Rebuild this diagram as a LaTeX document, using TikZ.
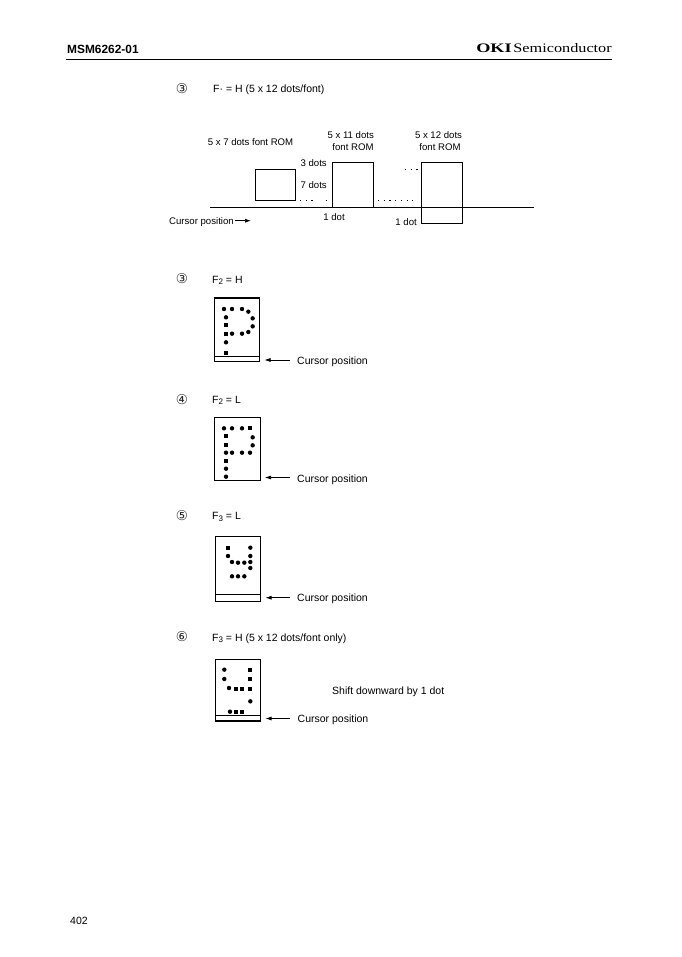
\documentclass[tikz,border=0pt]{standalone}
\usepackage{fontspec}
\usetikzlibrary{arrows.meta}
\setmainfont{Liberation Sans}
\newfontfamily\serifname{Liberation Serif}
\newfontfamily\symfont{DejaVu Sans}
\newcommand{\subdigit}[1]{\raisebox{-1.5pt}{\fontsize{8}{8}\selectfont #1}}
\begin{document}
\begin{tikzpicture}[x=1pt,y=-1pt,
  lab/.style={inner sep=0pt,yshift=-1.3pt,font=\fontsize{10.5}{12}\selectfont,text=black},
  leftlab/.style={lab,anchor=west},
  rightlab/.style={lab,anchor=east},
  small/.style={font=\fontsize{9.6}{11}\selectfont},
  circ/.style={inner sep=0pt,font=\symfont\fontsize{13.5}{14}\selectfont,text=black!85},
  frame/.style={draw=black,line width=0.8pt},
  thickline/.style={line width=1.7pt},
  curarrow/.style={draw=black,line width=0.7pt,-{Latex[length=6pt,width=4pt]}},
  specks/.style={line width=0.9pt,dash pattern=on 1.2pt off 4.5pt},
  round dot/.style={circle,fill=black,inner sep=0pt,minimum size=4.4pt},
  sq dot/.style={rectangle,fill=black,inner sep=0pt,minimum size=3.9pt}]
\useasboundingbox (0,0) rectangle (681,957);
\fill[white] (0,0) rectangle (681,957);
% header
\node[anchor=west,inner sep=0pt,yshift=-1pt,font=\fontsize{11.9}{13}\selectfont\bfseries] (title) at (67,48) {MSM6262-01};
\node[anchor=east,inner sep=0pt,yshift=-0.5pt,xscale=1.25,font=\serifname\fontsize{13}{14}\selectfont] (semi) at (612,48) {Semiconductor};
\node[anchor=east,inner sep=0pt,yshift=-0.5pt,xscale=1.4,font=\serifname\fontsize{13}{14}\selectfont\bfseries] (oki) at (512,48) {OKI};
\coordinate (ruleL) at (66,59);
\coordinate (ruleR) at (612,59);
\draw[line width=0.8pt] (ruleL) -- (ruleR);
\node[leftlab] (page) at (70,920) {402};
% headings
\node[circ] (c0) at (182,88.5) {③};
\node[leftlab] (h0) at (213,88) {F· = H (5 x 12 dots/font)};
\node[circ] (c3) at (182,279) {③};
\node[leftlab] (h3) at (212,279) {F\subdigit{2} = H};
\node[circ] (c4) at (182,399.5) {④};
\node[leftlab] (h4) at (212,399) {F\subdigit{2} = L};
\node[circ] (c5) at (182,515.5) {⑤};
\node[leftlab] (h5) at (212,515.5) {F\subdigit{3} = L};
\node[circ] (c6) at (182,637) {⑥};
\node[leftlab] (h6) at (212,637) {F\subdigit{3} = H (5 x 12 dots/font only)};
% font diagram
\coordinate (baseL) at (210,207.5);
\coordinate (baseM) at (332.5,207.5);
\coordinate (baseR) at (534,207.5);
\draw[line width=0.8pt] (baseL) -- (baseM);
\draw[thickline] (baseM) -- (baseR);
\draw[frame] (255.7,169.3) rectangle (295.7,200.3);
\draw[frame] (332.5,207.5) -- (332.5,162) -- (373.3,162) -- (373.3,207.5);
\draw[frame] (421.7,162) rectangle (462.3,223.3);
\node[lab,small] (rom7) at (250.5,141) {5 x 7 dots font ROM};
\node[lab,small] (rom11a) at (350.7,134) {5 x 11 dots};
\node[lab,small] (rom11b) at (353,146) {font ROM};
\node[lab,small] (rom12a) at (438.5,134) {5 x 12 dots};
\node[lab,small] (rom12b) at (440,146) {font ROM};
\node[rightlab,small] (d3) at (327,162) {3 dots};
\node[rightlab,small] (d7) at (327,184) {7 dots};
\node[lab,small] (d1a) at (334,215.5) {1 dot};
\node[rightlab,small] (d1b) at (417,220.5) {1 dot};
\node[leftlab,small] (cur0) at (169,220.5) {Cursor position};
\coordinate (tip0) at (251,220.7);
\draw[curarrow] (235,220.7) -- (tip0);
% dotted fragments
\draw[specks] (300,200) -- (314,200);
\draw[specks] (325.5,200) -- (327.5,200);
\draw[specks] (378,200) -- (416,200);
\draw[specks] (405,169) -- (418,169);
\draw[line width=0.7pt,dash pattern=on 1.5pt off 1.5pt] (421,180) -- (421,206);
% display boxes
\draw[frame] (214.5,297.7) rectangle (259.7,361.7);
\draw[thickline] (214.5,297.7) -- (259.7,297.7);
\draw[line width=0.7pt] (214.5,356) -- (259.7,356);
\draw[frame] (214.7,417.7) rectangle (259.9,480.7);
\draw[frame] (215.3,536.7) rectangle (260,601);
\draw[line width=0.7pt] (215.3,594.3) -- (260,594.3);
\draw[frame] (215.3,659.3) rectangle (260.5,721);
\draw[line width=0.7pt] (215.3,715.3) -- (260.5,715.3);
\draw[thickline] (215.3,720.7) -- (260.5,720.7);
% cursor labels
\node[leftlab] (cur3) at (297,360) {Cursor position};
\node[leftlab] (cur4) at (297,478) {Cursor position};
\node[leftlab] (cur5) at (297,597.7) {Cursor position};
\node[leftlab] (cur6) at (297.5,718.5) {Cursor position};
\coordinate (t3) at (264.5,360);
\coordinate (t4) at (265,477.5);
\coordinate (t5) at (265.5,597.7);
\coordinate (t6) at (265.5,718.5);
\draw[curarrow] (290,360) -- (t3);
\draw[curarrow] (290,477.5) -- (t4);
\draw[curarrow] (290,597.7) -- (t5);
\draw[curarrow] (290,718.5) -- (t6);
\node[leftlab] (shift) at (332,690) {Shift downward by 1 dot};
% font dots: zoom coordinates x/3+x0, y/3+y0
\foreach \x/\y in {162/132,186/132,216/132,235/140,168/157,248/160,248/184,186/206,216/206,235/201,168/232}
  \node[round dot] at ({\x/3+170},{\y/3+265}) {};
\foreach \x/\y in {168/181,168/206,168/263}
  \node[sq dot] at ({\x/3+170},{\y/3+265}) {};
\foreach \x/\y in {162/490,186/490,216/490,248/517,248/541,186/563,216/563,240/563,168/563,168/611,168/635}
  \node[round dot] at ({\x/3+170},{\y/3+265}) {};
\foreach \x/\y in {240/490,168/514,168/539,168/587}
  \node[sq dot] at ({\x/3+170},{\y/3+265}) {};
\foreach \x/\y in {241/128,174/153,241/153,186/171,204/173,223/173,241/171,241/189,186/214,204/214,223/214}
  \node[round dot] at ({\x/3+170},{\y/3+505}) {};
\foreach \x/\y in {174/128}
  \node[sq dot] at ({\x/3+170},{\y/3+505}) {};
\foreach \x/\y in {163/494,163/522,177/549,241/589,180/620}
  \node[round dot] at ({\x/3+170},{\y/3+505}) {};
\foreach \x/\y in {241/494,241/522,197/553,216/553,241/553,199/620,217/620}
  \node[sq dot] at ({\x/3+170},{\y/3+505}) {};
\end{tikzpicture}
\end{document}
